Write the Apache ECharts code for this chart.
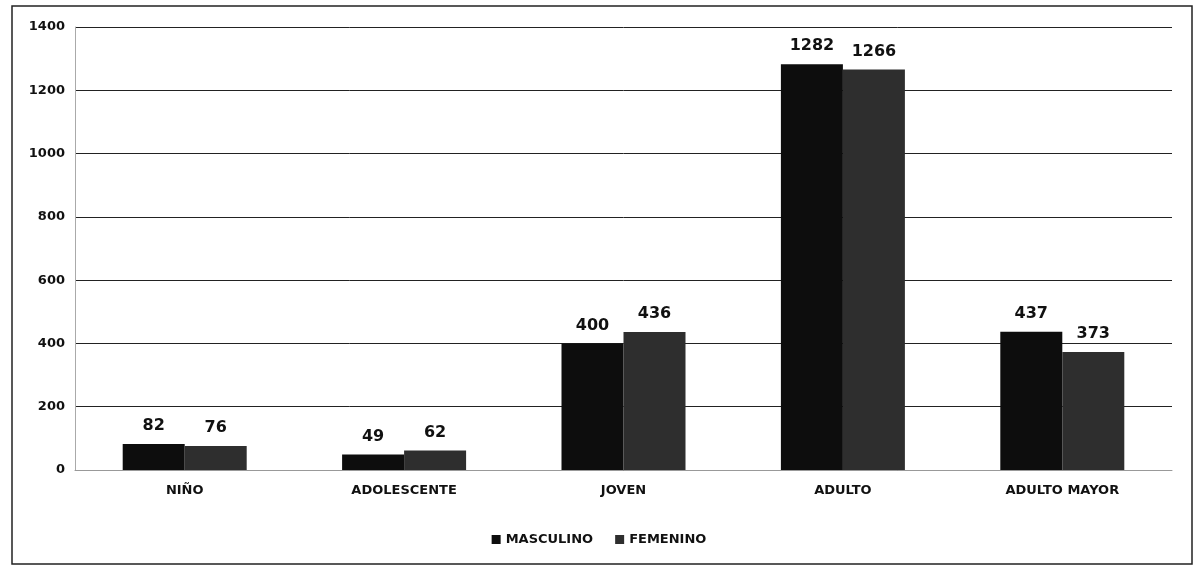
<!DOCTYPE html>
<html lang="es">
<head>
    <meta charset="UTF-8">
    <title>grupos de edad</title>
</head>
<style>
    * { margin: 0; padding: 0; }
    html, body { height: 100%; background: #fff; }
    #chart { width: 1198px; height: 571px; }
</style>
<script src="https://cdn.jsdelivr.net/npm/echarts@6/dist/echarts.min.js"></script>
<body>
<div id="chart"></div>
</body>
<script>
  const categories = ['NIÑO', 'ADOLESCENTE', 'JOVEN', 'ADULTO', 'ADULTO MAYOR']
  const masculino = [82, 49, 400, 1282, 437]
  const femenino = [76, 62, 436, 1266, 373]
  const yTicks = { min: 0, max: 1400, interval: 200 }

  const chart = echarts.init(document.getElementById('chart'))

  const labelStyle = {
    show: true,
    position: 'top',
    distance: 10,
    color: '#111',
    fontFamily: 'DejaVu Sans',
    fontWeight: 'bold',
    fontSize: 16
  }

  chart.setOption({
    animation: false,
    textStyle: { fontFamily: 'DejaVu Sans' },
    graphic: [{
      type: 'rect',
      shape: { x: 12, y: 6, width: 1180, height: 558 },
      style: { fill: 'none', stroke: '#222', lineWidth: 1.5 },
      silent: true
    }],
    grid: { left: 75, right: 26, top: 27, bottom: 101 },
    legend: {
      bottom: 20,
      left: 'center',
      itemWidth: 9,
      itemHeight: 9,
      itemGap: 22,
      icon: 'rect',
      textStyle: { color: '#111', fontWeight: 'bold', fontSize: 13 },
      data: ['MASCULINO', 'FEMENINO']
    },
    xAxis: {
      type: 'category',
      data: categories,
      axisLine: { lineStyle: { color: '#999', width: 1 } },
      axisTick: { show: false },
      axisLabel: { color: '#111', fontWeight: 'bold', fontSize: 13, margin: 14 }
    },
    yAxis: {
      type: 'value',
      min: yTicks.min,
      max: yTicks.max,
      interval: yTicks.interval,
      axisLine: { show: true, lineStyle: { color: '#aaa' } },
      axisTick: { show: false },
      axisLabel: {
        color: '#111', fontWeight: 'bold', fontSize: 13, margin: 10,
        formatter: v => String(v)
      },
      splitLine: { lineStyle: { color: '#222', width: 1 } }
    },
    series: [
      {
        name: 'MASCULINO',
        type: 'bar',
        data: masculino,
        barWidth: 62,
        barGap: '0%',
        itemStyle: { color: '#0d0d0d' },
        label: labelStyle
      },
      {
        name: 'FEMENINO',
        type: 'bar',
        data: femenino,
        barWidth: 62,
        itemStyle: { color: '#2e2e2e' },
        label: labelStyle
      }
    ]
  })
</script>
</html>
